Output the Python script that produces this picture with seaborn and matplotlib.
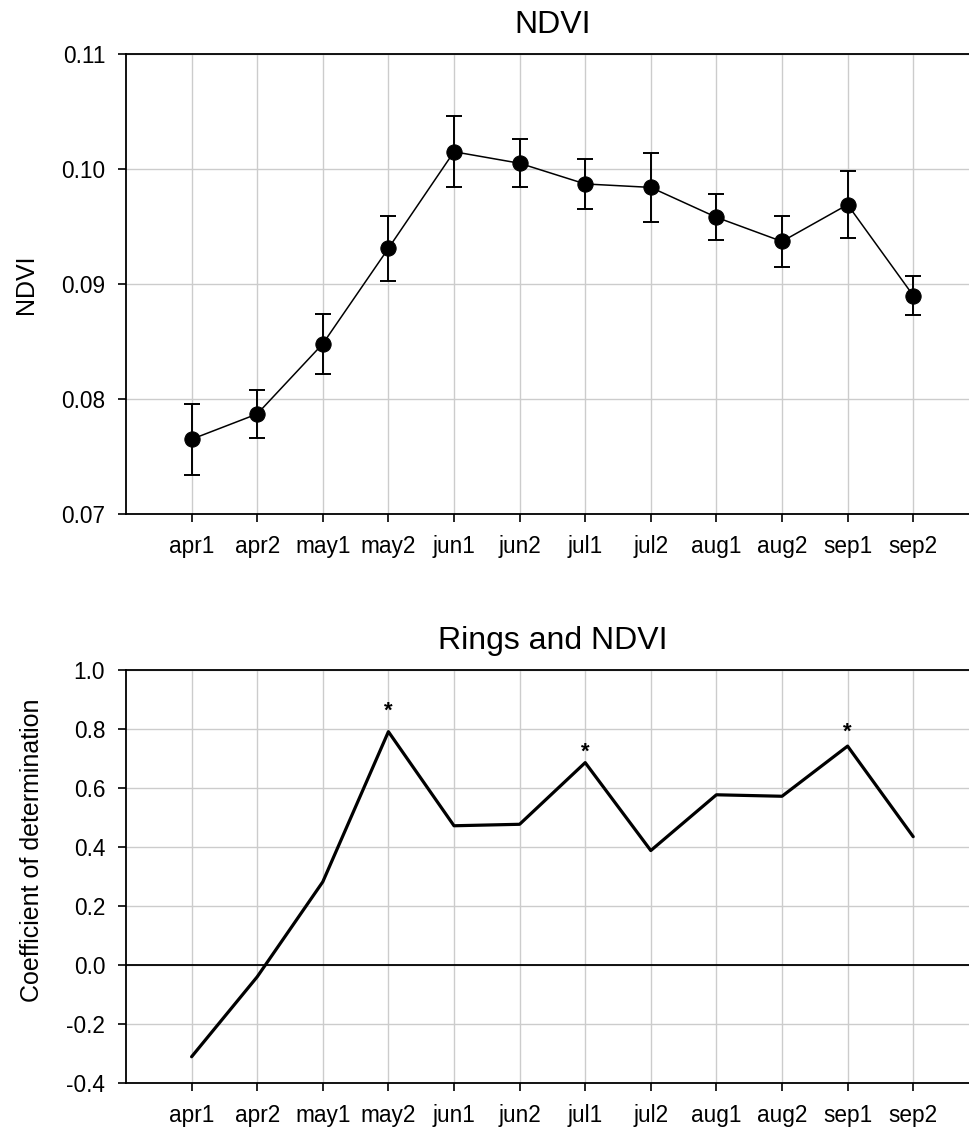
import matplotlib
matplotlib.use("Agg")
import matplotlib.pyplot as plt
import seaborn as sns
import pandas as pd

# --- dados ---
periodos = ['apr1', 'apr2', 'may1', 'may2', 'jun1', 'jun2',
            'jul1', 'jul2', 'aug1', 'aug2', 'sep1', 'sep2']
ndvi_media = [0.0765, 0.0787, 0.0848, 0.0931, 0.1015, 0.1005,
              0.0987, 0.0984, 0.0958, 0.0937, 0.0969, 0.0890]
ndvi_erro = [0.0031, 0.0021, 0.0026, 0.0028, 0.0031, 0.0021,
             0.0022, 0.0030, 0.0020, 0.0022, 0.0029, 0.0017]
coef_det = [-0.311, -0.040, 0.282, 0.791, 0.472, 0.477,
            0.686, 0.388, 0.577, 0.572, 0.742, 0.435]
significativo = ['may2', 'jul1', 'sep1']
estrela_y = [0.86, 0.72, 0.79]

ticks_ndvi = [0.07, 0.08, 0.09, 0.10, 0.11]
ticks_coef = [-0.4, -0.2, 0.0, 0.2, 0.4, 0.6, 0.8, 1.0]

df = pd.DataFrame({'pos': range(len(periodos)), 'periodo': periodos,
                   'ndvi': ndvi_media, 'erro': ndvi_erro, 'coef': coef_det})

sns.set_theme(style="ticks")
plt.rcParams['font.family'] = ['Liberation Sans', 'DejaVu Sans']
plt.rcParams.update({
    'text.color': 'black', 'axes.labelcolor': 'black',
    'xtick.color': 'black', 'ytick.color': 'black',
    'xtick.major.size': 6, 'ytick.major.size': 6,
    'xtick.major.pad': 9, 'ytick.major.pad': 9,
})

fig = plt.figure(figsize=(9.69, 11.34), dpi=100)
W, H = 969, 1134
largura = 13 * 65.6 / W
ax1 = fig.add_axes([126 / W, 1 - 514 / H, largura, (514 - 54) / H])
ax2 = fig.add_axes([126 / W, 1 - 1083 / H, largura, (1083 - 670) / H])


def formatar_eixo(ax, yticks, fmt):
    ax.set_xlim(-1, 12)
    ax.set_xticks(df['pos'])
    ax.set_xticklabels(periodos)
    ax.set_yticks(yticks)
    ax.set_yticklabels([fmt.format(v) for v in yticks])
    ax.set_ylim(yticks[0], yticks[-1])
    ax.grid(True, color='#cccccc', linewidth=1)
    ax.set_axisbelow(True)
    ax.tick_params(labelsize=16.3, width=1.2)
    for s in ax.spines.values():
        s.set_color('black')
        s.set_linewidth(1.3)
    ax.set_xlabel('')


# --- painel superior: NDVI ---
ax1.errorbar(df['pos'], df['ndvi'], yerr=df['erro'], fmt='none',
             ecolor='black', elinewidth=1.4, capsize=6, capthick=1.4, zorder=3)
sns.lineplot(data=df, x='pos', y='ndvi', ax=ax1, color='black', linewidth=1.1,
             marker='o', markersize=11, markeredgecolor='black', zorder=4)
formatar_eixo(ax1, ticks_ndvi, '{:.2f}')
ax1.set_title('NDVI', fontsize=23, pad=15)
ax1.set_ylabel('NDVI', fontsize=18)
ax1.yaxis.set_label_coords(-0.103, 0.5)

# --- painel inferior: coeficiente de determinação ---
ax2.axhline(0, color='black', linewidth=1.3, zorder=2)
sns.lineplot(data=df, x='pos', y='coef', ax=ax2, color='black', linewidth=2.3, zorder=4)
for nome, yv in zip(significativo, estrela_y):
    ax2.text(periodos.index(nome), yv, '*', ha='center', va='center',
             fontsize=16, fontweight='bold')
formatar_eixo(ax2, ticks_coef, '{:.1f}')
ax2.set_title('Rings and NDVI', fontsize=23, pad=15)
ax2.set_ylabel('Coefficient of determination', fontsize=18)
ax2.yaxis.set_label_coords(-0.096, 0.564)

fig.savefig('out.png', dpi=100)
